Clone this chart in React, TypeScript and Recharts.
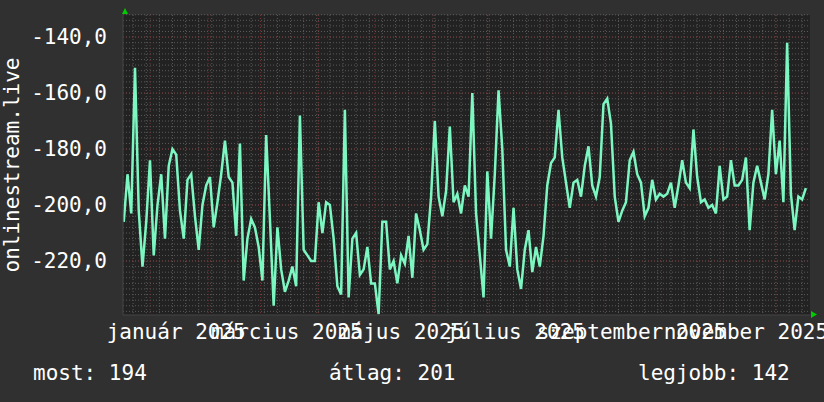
import React from "react";
import {
  LineChart,
  Line,
  XAxis,
  YAxis,
  CartesianGrid,
} from "recharts";

// days counted from 1 Jan 2025, one sample every 2 days
const START_DAY = -14;
const STEP_DAYS = 2;

const values = [
  -206, -189, -203, -151, -202, -222, -206, -184, -218, -200,
  -189, -212, -186, -180, -182, -202, -212, -191, -189, -204,
  -216, -200, -193, -190, -208, -199, -189, -177, -190, -192,
  -211, -178, -227, -212, -205, -208, -215, -227, -175, -205,
  -236, -208, -223, -231, -227, -222, -229, -168, -216, -218,
  -220, -220, -199, -210, -199, -200, -212, -229, -232, -166,
  -233, -212, -210, -225, -223, -215, -228, -228, -239, -206,
  -206, -223, -220, -228, -218, -221, -211, -226, -203, -209,
  -216, -214, -197, -170, -197, -204, -195, -172, -199, -196,
  -203, -193, -197, -160, -203, -218, -233, -188, -212, -189,
  -159, -180, -216, -222, -201, -223, -230, -216, -209, -224,
  -215, -222, -211, -193, -185, -183, -166, -183, -192, -201,
  -192, -191, -197, -186, -179, -193, -197, -190, -164, -162,
  -171, -197, -206, -202, -199, -184, -181, -189, -192, -204,
  -201, -191, -198, -196, -197, -196, -192, -201, -193, -184,
  -192, -194, -173, -190, -199, -198, -201, -200, -203, -186,
  -198, -197, -184, -193, -193, -191, -183, -209, -192, -186,
  -192, -198, -189, -166, -189, -177, -199, -142, -196, -209,
  -197, -198, -194,
];

const labelDays = [14, 73, 134, 195, 257, 318];
const labelNames = [
  "január 2025",
  "március 2025",
  "május 2025",
  "július 2025",
  "szeptember 2025",
  "november 2025",
];
const monthStarts = [0, 31, 59, 90, 120, 151, 181, 212, 243, 273, 304, 334];
const yTicks = [-220, -200, -180, -160, -140];

const legendItems = [
  { text: "most: 194", left: 33 },
  { text: "átlag: 201", left: 329 },
  { text: "legjobb: 142", left: 638 },
];

const FONT = '"DejaVu Sans Mono", monospace';
const BG = "#303030";
const PLOT_BG = "#222222";
const LINE = "#7cf7c2";

const data = values.map((v, i) => ({ day: START_DAY + i * STEP_DAYS, value: v }));

const weekLines: number[] = [];
for (let d = -9; d < 353; d += 7) weekLines.push(d);
const minorY: number[] = [];
for (let v = -238; v <= -132; v += 2) minorY.push(v);

const fmtY = (v: number) => v.toFixed(1).replace(".", ",");

const XTick = (props: any) => {
  const { x, y, payload } = props;
  const idx = labelDays.indexOf(payload.value);
  return (
    <text x={x} y={y + 16} textAnchor="middle" fill="#ffffff" fontFamily={FONT} fontSize={21}>
      {labelNames[idx]}
    </text>
  );
};

const YTick = (props: any) => {
  const { x, y, payload } = props;
  return (
    <text x={x} y={y + 7} textAnchor="end" fill="#ffffff" fontFamily={FONT} fontSize={21}>
      {fmtY(payload.value)}
    </text>
  );
};

const YTitle = (props: any) => {
  const vb = props.viewBox;
  const cy = vb.y + vb.height / 2;
  return (
    <text
      x={19}
      y={cy}
      transform={`rotate(-90 19 ${cy})`}
      textAnchor="middle"
      fill="#ffffff"
      fontFamily={FONT}
      fontSize={21}
    >
      onlinestream.live
    </text>
  );
};

export default function App() {
  return (
    <div style={{ position: "fixed", left: 0, top: 0, width: 824, height: 402, background: BG }}>
      <LineChart
        width={824}
        height={402}
        data={data}
        margin={{ top: 15, right: 14, bottom: 0, left: 0 }}
      >
        <CartesianGrid
          fill={PLOT_BG}
          stroke="#5a5a5a"
          strokeDasharray="1 2"
          horizontalValues={minorY}
          verticalValues={weekLines}
        />
        <CartesianGrid
          stroke="#7a3434"
          strokeDasharray="1 2"
          horizontalValues={yTicks}
          verticalValues={monthStarts}
        />
        <XAxis
          dataKey="day"
          type="number"
          domain={[-14.4, 352.2]}
          ticks={labelDays}
          interval={0}
          allowDataOverflow
          height={87}
          tickLine={false}
          axisLine={{ stroke: "#444444" }}
          tick={<XTick />}
        />
        <YAxis
          type="number"
          domain={[-239.3, -132.1]}
          ticks={yTicks}
          interval={0}
          allowDataOverflow
          width={123}
          tickSize={0}
          tickMargin={16}
          tickLine={false}
          axisLine={{ stroke: "#444444" }}
          tick={<YTick />}
          label={<YTitle />}
        />
        <Line
          type="linear"
          dataKey="value"
          stroke={LINE}
          strokeWidth={2.5}
          dot={false}
          isAnimationActive={false}
        />
      </LineChart>
      <svg
        width={824}
        height={402}
        style={{ position: "absolute", left: 0, top: 0, pointerEvents: "none" }}
      >
        <polygon points="122,14 128,14 125,8" fill="#00cc00" />
        <polygon points="811,311 811,318 817,314.5" fill="#00cc00" />
      </svg>
      {legendItems.map((l) => (
        <div
          key={l.text}
          style={{
            position: "absolute",
            left: l.left,
            top: 363,
            fontFamily: FONT,
            fontSize: 21,
            lineHeight: "21px",
            color: "#ffffff",
            whiteSpace: "pre",
          }}
        >
          {l.text}
        </div>
      ))}
    </div>
  );
}
